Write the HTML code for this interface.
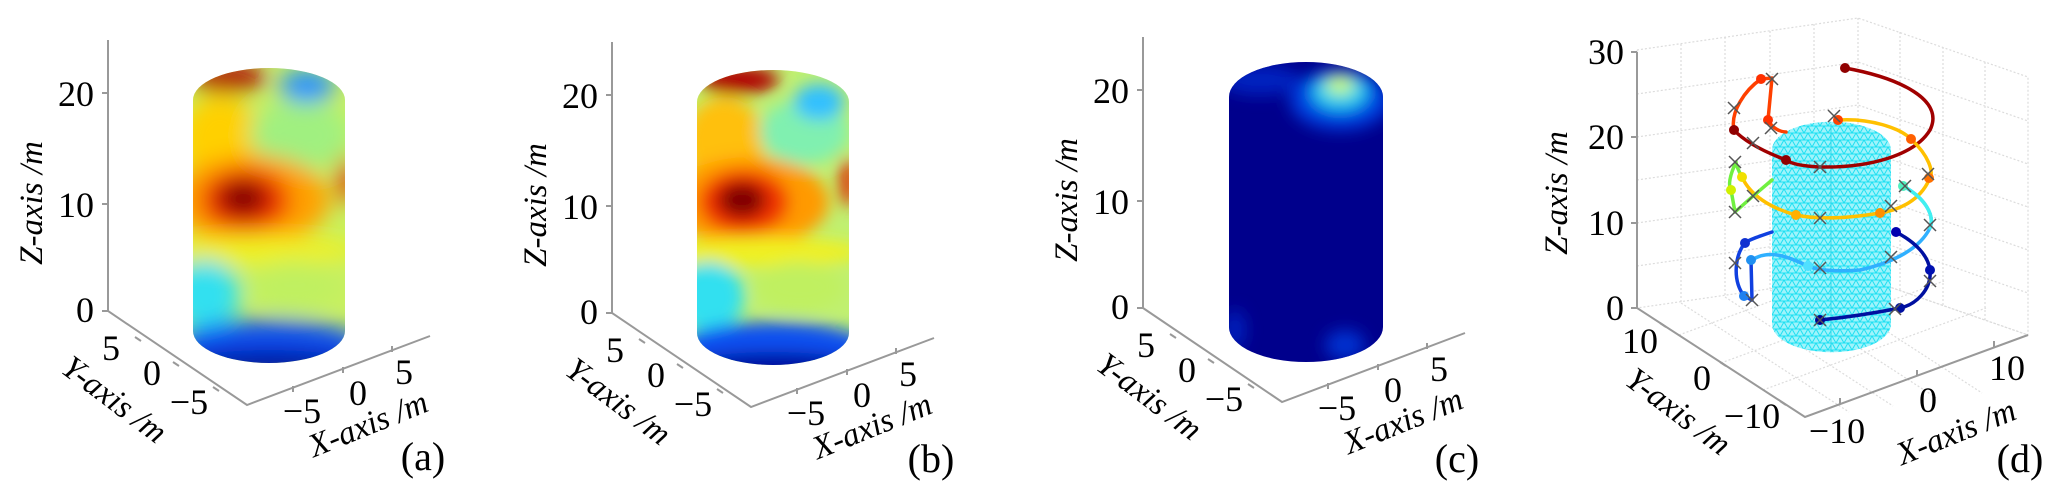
<!DOCTYPE html>
<html><head><meta charset="utf-8"><style>
html,body{margin:0;padding:0;background:#fff;}
svg{display:block;}
text{font-family:"Liberation Serif",serif;}
</style></head><body>
<svg width="2065" height="498" viewBox="0 0 2065 498" xmlns="http://www.w3.org/2000/svg" style="font-family:'Liberation Serif',serif">
<defs>
<filter id="bl" x="-20%" y="-20%" width="140%" height="140%"><feGaussianBlur stdDeviation="11"/></filter>
<filter id="bl2" x="-20%" y="-20%" width="140%" height="140%"><feGaussianBlur stdDeviation="8"/></filter>
<clipPath id="ca"><path d="M193,100 A76,32 0 0 1 345,100 L345,331 A76,32 0 0 1 193,331 Z"/></clipPath>
<clipPath id="cc"><path d="M1229,97 A77,35 0 0 1 1383,97 L1383,327 A77,35 0 0 1 1229,327 Z"/></clipPath>
<pattern id="mesh" width="8" height="7" patternUnits="userSpaceOnUse">
<rect width="8" height="7" fill="#9ff3fb"/>
<path d="M0,0 L8,0 M0,0 L4,7 L8,0 M0,7 L8,7" stroke="#1fe0f2" stroke-width="1" fill="none"/>
</pattern>
<g id="axesA">
<path d="M108,40 L108,311 L247,405 L430,336" fill="none" stroke="#999" stroke-width="2"/>
<path d="M108,93 L102,93 M108,204 L102,204 M108,311 L102,311" stroke="#999" stroke-width="2"/>
<path d="M135,337 L141,341 M173,362 L179,366 M213,387 L219,391 M293,392 L293,386 M343,373 L343,367 M392,352 L392,346" stroke="#999" stroke-width="2"/>
<g font-size="36" style="font-family:'Liberation Serif',serif" fill="#000">
<text x="94" y="106" text-anchor="end">20</text>
<text x="94" y="217" text-anchor="end">10</text>
<text x="94" y="322" text-anchor="end">0</text>
<text x="111" y="360" text-anchor="middle">5</text>
<text x="152" y="385" text-anchor="middle">0</text>
<text x="189" y="414" text-anchor="middle">−5</text>
<text x="302" y="423" text-anchor="middle">−5</text>
<text x="358" y="405" text-anchor="middle">0</text>
<text x="404" y="384" text-anchor="middle">5</text>
</g>
<g font-size="33" style="font-family:'Liberation Serif',serif;font-style:italic" fill="#000">
<text transform="translate(42,203) rotate(-90)" text-anchor="middle">Z-axis /m</text>
<text transform="translate(108,408) rotate(37)" text-anchor="middle">Y-axis /m</text>
<text transform="translate(372,434) rotate(-22)" text-anchor="middle">X-axis /m</text>
</g>
</g>
</defs>

<!-- Panel a -->
<use href="#axesA"/>
<text x="423" y="470" font-size="40" text-anchor="middle">(a)</text>
<g clip-path="url(#ca)">
<rect x="185" y="60" width="170" height="310" fill="#c8f060"/>
<g filter="url(#bl)">
<ellipse cx="220" cy="140" rx="40" ry="45" fill="#ffd000"/>
<ellipse cx="300" cy="135" rx="50" ry="35" fill="#a0f080"/>
<ellipse cx="228" cy="78" rx="38" ry="14" fill="#b00000"/>
<ellipse cx="307" cy="86" rx="28" ry="16" fill="#2090ff"/>
<ellipse cx="250" cy="200" rx="80" ry="45" fill="#ffa000"/>
<ellipse cx="245" cy="200" rx="45" ry="32" fill="#f03000"/>
<ellipse cx="243" cy="198" rx="25" ry="18" fill="#800000"/>
<ellipse cx="346" cy="180" rx="8" ry="25" fill="#e02000"/>
<ellipse cx="260" cy="250" rx="100" ry="15" fill="#f0f020"/>
<ellipse cx="205" cy="295" rx="35" ry="35" fill="#30e0f0"/>
<ellipse cx="295" cy="285" rx="45" ry="25" fill="#c0f060"/>
<ellipse cx="269" cy="345" rx="95" ry="25" fill="#1050f0"/>
<ellipse cx="269" cy="365" rx="90" ry="15" fill="#0010a0"/>
</g>
</g>

<!-- Panel b -->
<use href="#axesA" transform="translate(504,2)"/>
<text x="931" y="472" font-size="40" text-anchor="middle">(b)</text>
<g transform="translate(504,2)">
<g clip-path="url(#ca)">
<rect x="185" y="60" width="170" height="310" fill="#c0f070"/>
<g filter="url(#bl2)">
<ellipse cx="220" cy="140" rx="40" ry="45" fill="#ffc010"/>
<ellipse cx="300" cy="130" rx="45" ry="32" fill="#80f0b0"/>
<ellipse cx="235" cy="78" rx="40" ry="14" fill="#b00000"/>
<ellipse cx="315" cy="100" rx="25" ry="18" fill="#30c0ff"/>
<ellipse cx="245" cy="200" rx="80" ry="45" fill="#ff9a00"/>
<ellipse cx="240" cy="200" rx="45" ry="32" fill="#f03000"/>
<ellipse cx="238" cy="198" rx="24" ry="18" fill="#800000"/>
<ellipse cx="344" cy="180" rx="8" ry="25" fill="#e02000"/>
<ellipse cx="260" cy="250" rx="100" ry="15" fill="#f0f020"/>
<ellipse cx="205" cy="295" rx="35" ry="35" fill="#30e0f0"/>
<ellipse cx="295" cy="285" rx="45" ry="25" fill="#c0f060"/>
<ellipse cx="269" cy="345" rx="95" ry="25" fill="#1050f0"/>
<ellipse cx="269" cy="365" rx="90" ry="15" fill="#0010a0"/>
</g>
</g>
</g>

<!-- Panel c -->
<use href="#axesA" transform="translate(1035,-3)"/>
<text x="1457" y="472" font-size="40" text-anchor="middle">(c)</text>
<g clip-path="url(#cc)">
<rect x="1220" y="55" width="175" height="320" fill="#00008c"/>
<g filter="url(#bl2)">
<ellipse cx="1340" cy="100" rx="50" ry="30" fill="#0040e0"/>
<ellipse cx="1340" cy="92" rx="28" ry="18" fill="#20d0f0"/>
<ellipse cx="1340" cy="85" rx="14" ry="9" fill="#d0ff60"/>
<ellipse cx="1260" cy="80" rx="40" ry="15" fill="#0020c0"/>
<ellipse cx="1345" cy="345" rx="20" ry="15" fill="#0030d0"/>
<ellipse cx="1235" cy="330" rx="10" ry="20" fill="#0020c0"/>
</g>
</g>

<!-- Panel d -->
<g stroke="#dcdcdc" stroke-width="1.2" stroke-dasharray="2,2" fill="none">
<path d="M1637,50 L1858,18 L2028,77 L2028,335 L1858,276 L1637,308 Z M1858,18 L1858,276"/>
<path d="M1681,44 L1681,302 M1725,37 L1725,295 M1770,31 L1770,289 M1814,24 L1814,282
M1900,32 L1900,290 M1943,47 L1943,305 M1985,62 L1985,320
M1637,94 L1858,62 L2028,121 M1637,137 L1858,105 L2028,164 M1637,180 L1858,148 L2028,207 M1637,223 L1858,191 L2028,250 M1637,266 L1858,234 L2028,293
M1679,335 L1902,253 M1721,363 L1944,281 M1763,390 L1986,308
M1681,303 L1849,412 M1725,297 L1893,406 M1770,290 L1938,399 M1814,284 L1982,393 M1858,276 L2028,335"/>
</g>
<path d="M1637,52 L1637,308 L1805,417 L2028,335" fill="none" stroke="#999" stroke-width="2"/>
<path d="M1637,52 L1631,52 M1637,137 L1631,137 M1637,223 L1631,223 M1637,308 L1631,308" stroke="#999" stroke-width="2"/>
<path d="M1660,323 L1666,327 M1720,362 L1726,366 M1780,401 L1786,405 M1840,404 L1840,398 M1917,376 L1917,370 M1994,347 L1994,341" stroke="#999" stroke-width="2"/>
<g font-size="36" fill="#000" style="font-family:'Liberation Serif',serif">
<text x="1624" y="64" text-anchor="end">30</text>
<text x="1624" y="149" text-anchor="end">20</text>
<text x="1624" y="235" text-anchor="end">10</text>
<text x="1624" y="320" text-anchor="end">0</text>
<text x="1640" y="353" text-anchor="middle">10</text>
<text x="1702" y="390" text-anchor="middle">0</text>
<text x="1752" y="428" text-anchor="middle">−10</text>
<text x="1837" y="443" text-anchor="middle">−10</text>
<text x="1928" y="412" text-anchor="middle">0</text>
<text x="2007" y="380" text-anchor="middle">10</text>
</g>
<g font-size="33" fill="#000" style="font-family:'Liberation Serif',serif;font-style:italic">
<text transform="translate(1567,193) rotate(-90)" text-anchor="middle">Z-axis /m</text>
<text transform="translate(1672,420) rotate(37)" text-anchor="middle">Y-axis /m</text>
<text transform="translate(1960,442) rotate(-22)" text-anchor="middle">X-axis /m</text>
</g>
<text x="2020" y="472" font-size="40" text-anchor="middle">(d)</text>
<path d="M1772,150 A59,28 0 0 1 1891,150 L1891,324 A59,28 0 0 1 1772,324 Z" fill="url(#mesh)"/>
<path d="M1831,124 L1831,352" stroke="#30d8ea" stroke-width="1"/>
<g fill="none" stroke-width="3.5" stroke-linecap="round" stroke-linejoin="round">
<path d="M1845,68 C1900,78 1945,100 1930,130 C1915,155 1870,168 1820,167 C1800,166 1790,163 1786,160 C1765,152 1745,142 1734,130" stroke="#a00000"/>
<path d="M1734,130 C1730,112 1745,90 1761,79 L1772,78 L1768,120 C1772,128 1780,132 1786,132" stroke="#ff4000"/>
<path d="M1838,120 C1870,118 1900,128 1911,139 C1928,155 1935,172 1929,180 C1920,200 1900,210 1880,213 C1850,218 1820,220 1796,215 C1770,208 1750,195 1742,177" stroke="#ffc000"/>
<path d="M1742,177 C1738,170 1736,164 1736,162 C1730,175 1728,185 1731,190 L1735,212 L1752,197 L1772,180" stroke="#70f040"/>
<path d="M1903,186 C1925,198 1935,215 1930,228 C1920,248 1895,262 1860,270 C1835,272 1815,270 1808,266 C1790,258 1770,248 1752,260" stroke="#30b0ff"/>
<path d="M1903,186 C1925,198 1935,215 1930,228" stroke="#40f0f0"/>
<path d="M1772,232 C1760,236 1748,240 1745,243 C1735,255 1732,280 1744,296 L1752,300 M1751,260 L1752,300" stroke="#1040e0"/>
<path d="M1896,232 C1915,242 1928,255 1930,270 C1932,290 1915,305 1900,308 C1870,314 1840,318 1820,320" stroke="#0010a0"/>
</g>
<g>
<circle cx="1845" cy="68" r="5" fill="#900000"/>
<circle cx="1761" cy="79" r="5" fill="#ff3000"/>
<circle cx="1768" cy="120" r="5" fill="#ff3000"/>
<circle cx="1734" cy="130" r="5" fill="#900000"/>
<circle cx="1786" cy="160" r="5" fill="#900000"/>
<circle cx="1838" cy="120" r="5" fill="#ff4000"/>
<circle cx="1911" cy="139" r="5" fill="#ff6000"/>
<circle cx="1929" cy="178" r="5" fill="#ff7000"/>
<circle cx="1880" cy="213" r="5" fill="#ff9000"/>
<circle cx="1796" cy="215" r="5" fill="#ffb000"/>
<circle cx="1742" cy="177" r="5" fill="#f0e000"/>
<circle cx="1731" cy="190" r="5" fill="#d0f000"/>
<circle cx="1903" cy="186" r="5" fill="#50f0c0"/>
<circle cx="1808" cy="266" r="5" fill="#50e0ff"/>
<circle cx="1745" cy="243" r="5" fill="#1030d0"/>
<circle cx="1751" cy="260" r="5" fill="#2090f0"/>
<circle cx="1744" cy="296" r="5" fill="#2080f0"/>
<circle cx="1896" cy="232" r="5" fill="#0000b0"/>
<circle cx="1930" cy="270" r="5" fill="#0010b0"/>
<circle cx="1900" cy="308" r="5" fill="#0010a0"/>
<circle cx="1820" cy="320" r="5" fill="#000090"/>
</g>
<g stroke="#555" stroke-width="1.5">
<path d="M1766,73 l12,12 m0,-12 l-12,12 M1728,102 l12,12 m0,-12 l-12,12 M1765,122 l12,12 m0,-12 l-12,12 M1747,137 l12,12 m0,-12 l-12,12 M1828,110 l12,12 m0,-12 l-12,12 M1814,161 l12,12 m0,-12 l-12,12 M1922,168 l12,12 m0,-12 l-12,12 M1729,156 l12,12 m0,-12 l-12,12 M1747,190 l12,12 m0,-12 l-12,12 M1729,206 l12,12 m0,-12 l-12,12 M1814,212 l12,12 m0,-12 l-12,12 M1885,200 l12,12 m0,-12 l-12,12 M1899,180 l12,12 m0,-12 l-12,12 M1924,219 l12,12 m0,-12 l-12,12 M1814,262 l12,12 m0,-12 l-12,12 M1885,251 l12,12 m0,-12 l-12,12 M1729,257 l12,12 m0,-12 l-12,12 M1746,294 l12,12 m0,-12 l-12,12 M1924,275 l12,12 m0,-12 l-12,12 M1889,303 l12,12 m0,-12 l-12,12 M1814,314 l12,12 m0,-12 l-12,12"/>
</g>
</svg>
</body></html>
